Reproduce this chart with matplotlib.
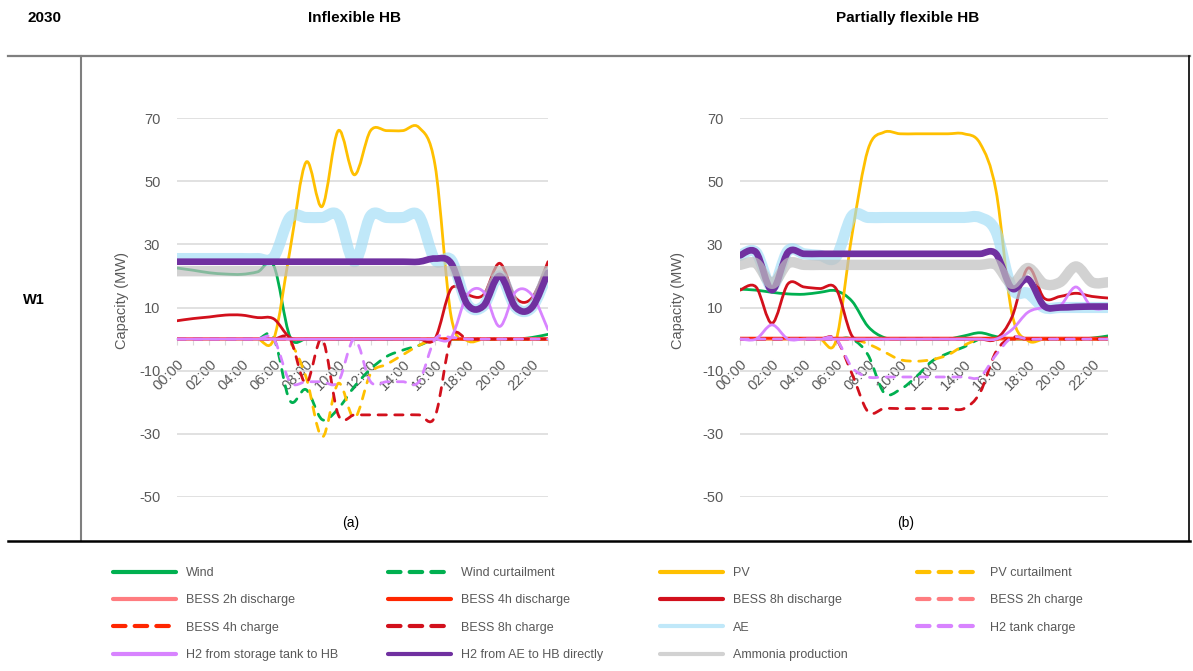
import matplotlib.pyplot as plt
import numpy as np
from matplotlib.path import Path
from matplotlib.patches import PathPatch
from matplotlib.lines import Line2D

plt.rcParams['font.family'] = ['Liberation Sans', 'DejaVu Sans']
plt.rcParams['axes.unicode_minus'] = False

W, H = 1193, 671

hours = list(range(24))
tick_labels = ['%02d:00' % h if h % 2 == 0 else '' for h in hours]

series_names = ['Wind', 'Wind curtailment', 'PV', 'PV curtailment',
                'BESS 2h discharge', 'BESS 4h discharge', 'BESS 8h discharge', 'BESS 2h charge',
                'BESS 4h charge', 'BESS 8h charge', 'AE', 'H2 tank charge',
                'H2 from storage tank to HB', 'H2 from AE to HB directly', 'Ammonia production']

# (a) Inflexible HB, MW per hour
a_wind = [22.5, 21.8, 21.0, 20.6, 20.5, 21.3, 23.2, 0.8, 0, 0, 0, 0, 0, 0, 0, 0, 0, 0, 0, 0, 0, 0, 0.5, 1.5]
a_wind_curt = [0, 0, 0, 0, 0, 0, 0.5, -19.5, -16, -25.5, -22, -15, -9.5, -5.5, -3.5, -2, 0, 0, 0, 0, 0, 0, 0, 0]
a_pv = [0, 0, 0, 0, 0, 0, 0, 28, 56, 42, 66, 52, 66, 66, 66, 67, 55, 7, -0.5, 0, 0, 0, 0, 0]
a_pv_curt = [0, 0, 0, 0, 0, 0, 0, -1, -12, -31, -14, -25, -11, -8, -5, -2, 0, 0, 0, 0, 0, 0, 0, 0]
a_bess2_dis = [0.2] * 24
a_bess4_dis = [0] * 24
a_bess8_dis = [5.8, 6.5, 7.0, 7.6, 7.6, 6.8, 6.4, 0.5, 0, 0, 0, 0, 0, 0, 0, 0, 0.2, 16, 14, 14, 24, 13, 13, 24.5]
a_bess2_ch = [0] * 24
a_bess4_ch = [0] * 24
a_bess8_ch = [0, 0, 0, 0, 0, 0, 0, 0, -14, 0, -24, -24, -24, -24, -24, -24, -24.5, 0.5, 0, 0, 0, 0, 0, 0]
a_ae = [25.5, 25.5, 25.5, 25.5, 25.5, 25.5, 26, 38.5, 38.5, 38.5, 39, 24.5, 39, 38.5, 38.5, 39,
        25, 25, 11, 10.5, 20, 10, 10, 21]
a_h2_tank = [0, 0, 0, 0, 0, 0, 0, -13.5, -13.5, -13.5, -13.5, 0, -13.5, -13.5, -13.5, -13.5, 0, 0.5, 0, 0, 0, 0, 0, 0]
a_h2_storage = [0] * 17 + [0.5, 14, 15, 4, 15, 14, 3]
a_h2_direct = [24.5] * 16 + [25.5, 24, 11, 10.5, 20, 10, 10, 21]
a_ammonia = [21.5] * 24

# (b) Partially flexible HB, MW per hour
b_wind = [15.8, 15.5, 14.8, 14.3, 14.2, 14.8, 15.3, 12, 4, 0.5, 0, 0, 0, 0, 1, 2, 0.8, 0, 0, 0, 0, 0, 0.3, 1]
b_wind_curt = [0] * 7 + [0, -5, -17, -16, -12, -7, -4.5, -2.5, 0] + [0] * 8
b_pv = [0, 0, 0, 0, 0, 0, -0.5, 33, 60, 65.5, 65, 65, 65, 65, 65, 62, 47, 8, -0.5, 0, 0, 0, 0, 0]
b_pv_curt = [0] * 8 + [-1.5, -4, -6.5, -7, -6.5, -5, -2, 0] + [0] * 8
b_bess2_dis = [0] * 24
b_bess4_dis = [0.3] * 24
b_bess8_dis = [15.5, 16.5, 5, 17.5, 16.5, 16, 16, 1, 0, 0, 0, 0, 0, 0, 0, 0, 0, 7, 22.5, 13, 13.5, 14.5, 13.5, 13]
b_bess2_ch = [0] * 24
b_bess4_ch = [0] * 24
b_bess8_ch = [0] * 7 + [-11, -23, -22, -22, -22, -22, -22, -22, -17, -4, 0.5] + [0] * 6
b_ae = [26.5, 27.5, 16.5, 28, 27, 26.5, 26, 39, 38.5, 38.5, 38.5, 38.5, 38.5, 38.5, 38.5, 38.5,
        34, 16, 14.5, 10, 10, 10, 10, 10]
b_h2_tank = [0] * 7 + [-9, -12, -12, -12, -12, -12, -12, -12, -12, -5, 0.5] + [0] * 6
b_h2_storage = [0, 0, 4.5, 0] + [0] * 13 + [3, 8.5, 10, 10.5, 16.5, 10, 9.8]
b_h2_direct = [26.5, 27.5, 15.5, 27.5] + [27] * 12 + [27, 16, 19, 10.5, 10, 10.2, 10.3, 10.3]
b_ammonia = [23.5, 24, 17.5, 24] + [23.5] * 13 + [17.5, 22.5, 17.5, 18, 23, 18, 18]

panel_a = [a_wind, a_wind_curt, a_pv, a_pv_curt, a_bess2_dis, a_bess4_dis, a_bess8_dis, a_bess2_ch,
           a_bess4_ch, a_bess8_ch, a_ae, a_h2_tank, a_h2_storage, a_h2_direct, a_ammonia]
panel_b = [b_wind, b_wind_curt, b_pv, b_pv_curt, b_bess2_dis, b_bess4_dis, b_bess8_dis, b_bess2_ch,
           b_bess4_ch, b_bess8_ch, b_ae, b_h2_tank, b_h2_storage, b_h2_direct, b_ammonia]

# colour, line width, dashed, alpha
styles = [
    ('#00b050', 2.0, False, 1.0),
    ('#00b050', 2.0, True, 1.0),
    ('#ffc000', 2.0, False, 1.0),
    ('#ffc000', 2.0, True, 1.0),
    ('#ff7c80', 2.0, False, 1.0),
    ('#ff2600', 2.0, False, 1.0),
    ('#d2101c', 2.0, False, 1.0),
    ('#ff7c80', 2.0, True, 1.0),
    ('#ff2600', 2.0, True, 1.0),
    ('#d2101c', 2.0, True, 1.0),
    ('#9fdcf6', 8.0, False, 0.65),
    ('#d883ff', 2.0, True, 1.0),
    ('#d883ff', 2.0, False, 1.0),
    ('#7030a0', 4.8, False, 1.0),
    ('#bfbfbf', 7.5, False, 0.7),
]
DASH = (0, (3.0, 3.0))


def smooth_path(x, y):
    # smoothed line through the hourly points (cubic Bezier segments)
    pts = np.column_stack([x, y]).astype(float)
    ext = np.vstack([pts[0], pts, pts[-1]])
    verts = [pts[0]]
    codes = [Path.MOVETO]
    for i in range(len(pts) - 1):
        p0, p1, p2, p3 = ext[i], ext[i + 1], ext[i + 2], ext[i + 3]
        verts += [p1 + (p2 - p0) / 6, p2 - (p3 - p1) / 6, p2]
        codes += [Path.CURVE4] * 3
    return Path(verts, codes)


def fx(px):
    return px / W


def fy(py):
    return 1 - py / H


def draw_panel(ax, data, tag, tag_x, ylab_x):
    for vals, (c, lw, dashed, alpha) in zip(data, styles):
        patch = PathPatch(smooth_path(hours, vals), fill=False, edgecolor=c, lw=lw, alpha=alpha,
                          linestyle=DASH if dashed else '-', capstyle='round', joinstyle='round')
        ax.add_patch(patch)
    ax.set_xlim(0, 23)
    ax.set_ylim(-50, 70)
    ax.set_yticks(range(-50, 71, 20))
    ax.grid(axis='y', color='#d9d9d9', lw=1.1)
    ax.set_axisbelow(True)
    for s in ['left', 'right', 'top']:
        ax.spines[s].set_visible(False)
    ax.spines['bottom'].set_position(('data', 0))
    ax.spines['bottom'].set_color('#d9d9d9')
    ax.spines['bottom'].set_linewidth(1.1)
    ax.spines['bottom'].set_zorder(0.5)
    ax.set_xticks(hours)
    ax.set_xticklabels(tick_labels, rotation=45, ha='right', va='top', rotation_mode='anchor')
    ax.tick_params(axis='x', length=4, color='#d9d9d9', labelsize=10.5, labelcolor='#595959', pad=9)
    ax.tick_params(axis='y', length=0, labelsize=10.5, labelcolor='#595959', pad=12)
    ax.set_facecolor('none')
    fig.text(fx(ylab_x), fy(300), 'Capacity (MW)', rotation=90, ha='center', va='center',
             fontsize=10.5, color='#595959')
    fig.text(fx(tag_x), fy(523), tag, ha='center', va='center', fontsize=10, color='black')


fig = plt.figure(figsize=(W / 100, H / 100), dpi=100)

ax1 = fig.add_axes([fx(177), fy(497), fx(548 - 177), (497 - 118) / H])
ax2 = fig.add_axes([fx(740), fy(497), fx(1108 - 740), (497 - 118) / H])
draw_panel(ax1, panel_a, '(a)', 351, 122)
draw_panel(ax2, panel_b, '(b)', 906, 678)

# table frame
fig.add_artist(Line2D([fx(8), fx(1190)], [fy(56), fy(56)], color='#7f7f7f', lw=1.6, transform=fig.transFigure))
fig.add_artist(Line2D([fx(81), fx(81)], [fy(56), fy(541)], color='#7f7f7f', lw=1.5, transform=fig.transFigure))
fig.add_artist(Line2D([fx(1189), fx(1189)], [fy(56), fy(541)], color='black', lw=1.2, transform=fig.transFigure))
fig.add_artist(Line2D([fx(8), fx(1190)], [fy(541), fy(541)], color='black', lw=1.8, transform=fig.transFigure))

head_font = ['Liberation Sans Narrow', 'Liberation Sans', 'DejaVu Sans']
fig.text(fx(45), fy(18), '2030', ha='center', va='center', fontsize=11, fontweight='bold', family=head_font)
fig.text(fx(354), fy(18), 'Inflexible HB', ha='center', va='center', fontsize=11, fontweight='bold', family=head_font)
fig.text(fx(908), fy(18), 'Partially flexible HB', ha='center', va='center', fontsize=11, fontweight='bold',
         family=head_font)
fig.text(fx(34), fy(300), 'W1', ha='center', va='center', fontsize=10.5, fontweight='bold')

# legend, four columns filled row by row
handles = []
for c, lw, dashed, alpha in styles:
    handles.append(Line2D([0], [0], color=c, lw=3.0, alpha=alpha,
                          linestyle=(0, (3.0, 2.2)) if dashed else '-',
                          solid_capstyle='round', dash_capstyle='round'))
col_x = [113, 388, 660, 917]
for j, x0 in enumerate(col_x):
    idx = list(range(j, len(series_names), 4))
    fig.legend([handles[i] for i in idx], [series_names[i] for i in idx],
               loc='upper left', bbox_to_anchor=(fx(x0), fy(567)), frameon=False,
               fontsize=9, labelcolor='#595959', handlelength=5.0, handletextpad=0.85,
               labelspacing=1.23, borderpad=0, borderaxespad=0)

fig.savefig('out.png', dpi=100)
